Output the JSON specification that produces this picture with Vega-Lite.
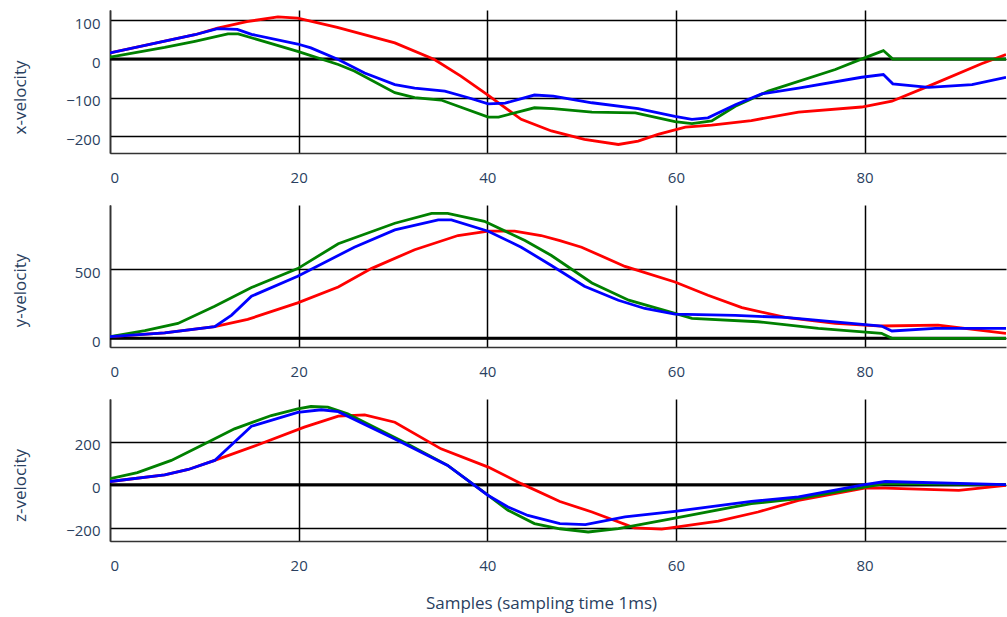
{
  "$schema": "https://vega.github.io/schema/vega-lite/v6.json",
  "padding": {"left": 10, "top": 10, "right": 0, "bottom": 6},
  "autosize": {"type": "pad"},
  "bounds": "flush",
  "spacing": 52,
  "config": {
    "font": "Open Sans",
    "view": {"stroke": null},
    "axis": {
      "grid": true, "gridColor": "#000000", "gridWidth": 1.5,
      "domainColor": "#333333", "domainWidth": 1.5, "ticks": false,
      "labelColor": "#2a3f5f", "titleColor": "#2a3f5f",
      "labelFont": "Open Sans", "titleFont": "Open Sans",
      "labelFontSize": 15, "titleFontSize": 17, "titleFontWeight": "normal"
    },
    "axisX": {"labelPadding": 17},
    "axisY": {"labelPadding": 10, "labelOffset": 3, "titleAngle": -90, "titleBaseline": "bottom", "titleAlign": "center", "titleX": -81}
  },
  "datasets": {
    "xv": [
      {"sample": 0, "series": "red", "v": 16}, {"sample": 9, "series": "red", "v": 63}, {"sample": 11.4, "series": "red", "v": 80}, {"sample": 14.5, "series": "red", "v": 97}, {"sample": 17.8, "series": "red", "v": 109}, {"sample": 19.9, "series": "red", "v": 106}, {"sample": 24.1, "series": "red", "v": 82}, {"sample": 30.2, "series": "red", "v": 42}, {"sample": 34.4, "series": "red", "v": -1}, {"sample": 37.2, "series": "red", "v": -44}, {"sample": 40, "series": "red", "v": -92}, {"sample": 43.6, "series": "red", "v": -156}, {"sample": 46.8, "series": "red", "v": -186}, {"sample": 50.3, "series": "red", "v": -208}, {"sample": 53.9, "series": "red", "v": -221}, {"sample": 56, "series": "red", "v": -212}, {"sample": 58.1, "series": "red", "v": -195}, {"sample": 61, "series": "red", "v": -176}, {"sample": 63.8, "series": "red", "v": -171}, {"sample": 68, "series": "red", "v": -159}, {"sample": 73, "series": "red", "v": -137}, {"sample": 79.7, "series": "red", "v": -124}, {"sample": 82.9, "series": "red", "v": -109}, {"sample": 86.8, "series": "red", "v": -70}, {"sample": 92.4, "series": "red", "v": -12}, {"sample": 95, "series": "red", "v": 12},
      {"sample": 0, "series": "green", "v": 5}, {"sample": 5.8, "series": "green", "v": 30}, {"sample": 9, "series": "green", "v": 46}, {"sample": 12.5, "series": "green", "v": 65}, {"sample": 13.6, "series": "green", "v": 65}, {"sample": 19.9, "series": "green", "v": 20}, {"sample": 24.2, "series": "green", "v": -14}, {"sample": 25.9, "series": "green", "v": -31}, {"sample": 30.2, "series": "green", "v": -87}, {"sample": 32.3, "series": "green", "v": -100}, {"sample": 35.1, "series": "green", "v": -106}, {"sample": 40.1, "series": "green", "v": -150}, {"sample": 41.2, "series": "green", "v": -150}, {"sample": 45, "series": "green", "v": -126}, {"sample": 47, "series": "green", "v": -128}, {"sample": 51.1, "series": "green", "v": -137}, {"sample": 55.7, "series": "green", "v": -139}, {"sample": 59.9, "series": "green", "v": -162}, {"sample": 61.7, "series": "green", "v": -167}, {"sample": 63.8, "series": "green", "v": -160}, {"sample": 66.3, "series": "green", "v": -122}, {"sample": 69.8, "series": "green", "v": -83}, {"sample": 76.9, "series": "green", "v": -27}, {"sample": 80, "series": "green", "v": 3}, {"sample": 82, "series": "green", "v": 22}, {"sample": 83, "series": "green", "v": 0}, {"sample": 95, "series": "green", "v": 0},
      {"sample": 0, "series": "blue", "v": 16}, {"sample": 9, "series": "blue", "v": 63}, {"sample": 11.4, "series": "blue", "v": 79}, {"sample": 13.5, "series": "blue", "v": 77}, {"sample": 15, "series": "blue", "v": 64}, {"sample": 19.9, "series": "blue", "v": 39}, {"sample": 21.3, "series": "blue", "v": 29}, {"sample": 24.2, "series": "blue", "v": -1}, {"sample": 27, "series": "blue", "v": -36}, {"sample": 30.2, "series": "blue", "v": -66}, {"sample": 32.3, "series": "blue", "v": -75}, {"sample": 35.5, "series": "blue", "v": -83}, {"sample": 38, "series": "blue", "v": -100}, {"sample": 40.1, "series": "blue", "v": -116}, {"sample": 41.9, "series": "blue", "v": -114}, {"sample": 45, "series": "blue", "v": -93}, {"sample": 47, "series": "blue", "v": -96}, {"sample": 51.1, "series": "blue", "v": -113}, {"sample": 56, "series": "blue", "v": -128}, {"sample": 59.9, "series": "blue", "v": -148}, {"sample": 61.7, "series": "blue", "v": -156}, {"sample": 63.4, "series": "blue", "v": -152}, {"sample": 66.3, "series": "blue", "v": -118}, {"sample": 69.1, "series": "blue", "v": -90}, {"sample": 73, "series": "blue", "v": -75}, {"sample": 79.7, "series": "blue", "v": -47}, {"sample": 82, "series": "blue", "v": -40}, {"sample": 83, "series": "blue", "v": -64}, {"sample": 86.8, "series": "blue", "v": -73}, {"sample": 91.4, "series": "blue", "v": -66}, {"sample": 95, "series": "blue", "v": -47}
    ],
    "yv": [
      {"sample": 0, "series": "red", "v": 12}, {"sample": 5.8, "series": "red", "v": 40}, {"sample": 11.1, "series": "red", "v": 84}, {"sample": 14.6, "series": "red", "v": 137}, {"sample": 19.9, "series": "red", "v": 257}, {"sample": 24.2, "series": "red", "v": 372}, {"sample": 27.7, "series": "red", "v": 505}, {"sample": 32.3, "series": "red", "v": 642}, {"sample": 36.9, "series": "red", "v": 745}, {"sample": 40.1, "series": "red", "v": 776}, {"sample": 42.9, "series": "red", "v": 776}, {"sample": 45.7, "series": "red", "v": 745}, {"sample": 47.7, "series": "red", "v": 708}, {"sample": 50, "series": "red", "v": 660}, {"sample": 54.6, "series": "red", "v": 521}, {"sample": 59.9, "series": "red", "v": 408}, {"sample": 63.4, "series": "red", "v": 312}, {"sample": 67, "series": "red", "v": 223}, {"sample": 71.6, "series": "red", "v": 151}, {"sample": 76.9, "series": "red", "v": 108}, {"sample": 81.8, "series": "red", "v": 89}, {"sample": 87.8, "series": "red", "v": 96}, {"sample": 95, "series": "red", "v": 36},
      {"sample": 0, "series": "green", "v": 12}, {"sample": 3.7, "series": "green", "v": 55}, {"sample": 7.2, "series": "green", "v": 108}, {"sample": 11.1, "series": "green", "v": 233}, {"sample": 15, "series": "green", "v": 368}, {"sample": 19.9, "series": "green", "v": 505}, {"sample": 24.2, "series": "green", "v": 685}, {"sample": 30.2, "series": "green", "v": 834}, {"sample": 34.1, "series": "green", "v": 905}, {"sample": 35.8, "series": "green", "v": 905}, {"sample": 39.7, "series": "green", "v": 848}, {"sample": 44, "series": "green", "v": 709}, {"sample": 46.8, "series": "green", "v": 600}, {"sample": 51.1, "series": "green", "v": 401}, {"sample": 55, "series": "green", "v": 276}, {"sample": 59.9, "series": "green", "v": 180}, {"sample": 61.7, "series": "green", "v": 144}, {"sample": 68.7, "series": "green", "v": 120}, {"sample": 75.1, "series": "green", "v": 72}, {"sample": 81.8, "series": "green", "v": 36}, {"sample": 82.9, "series": "green", "v": 0}, {"sample": 95, "series": "green", "v": 0},
      {"sample": 0, "series": "blue", "v": 12}, {"sample": 5.8, "series": "blue", "v": 40}, {"sample": 11.1, "series": "blue", "v": 84}, {"sample": 12.9, "series": "blue", "v": 168}, {"sample": 15, "series": "blue", "v": 305}, {"sample": 19.9, "series": "blue", "v": 449}, {"sample": 25.9, "series": "blue", "v": 660}, {"sample": 30.2, "series": "blue", "v": 786}, {"sample": 34.8, "series": "blue", "v": 858}, {"sample": 36.2, "series": "blue", "v": 858}, {"sample": 40.1, "series": "blue", "v": 776}, {"sample": 43.6, "series": "blue", "v": 660}, {"sample": 46.8, "series": "blue", "v": 528}, {"sample": 50.3, "series": "blue", "v": 377}, {"sample": 53.9, "series": "blue", "v": 276}, {"sample": 56.7, "series": "blue", "v": 216}, {"sample": 59.9, "series": "blue", "v": 175}, {"sample": 66.3, "series": "blue", "v": 166}, {"sample": 71.6, "series": "blue", "v": 151}, {"sample": 81.8, "series": "blue", "v": 89}, {"sample": 82.9, "series": "blue", "v": 53}, {"sample": 87.5, "series": "blue", "v": 72}, {"sample": 95, "series": "blue", "v": 72}
    ],
    "zv": [
      {"sample": 0, "series": "red", "v": 15}, {"sample": 5.8, "series": "red", "v": 46}, {"sample": 8.3, "series": "red", "v": 71}, {"sample": 11.1, "series": "red", "v": 113}, {"sample": 15.7, "series": "red", "v": 186}, {"sample": 20.6, "series": "red", "v": 268}, {"sample": 24.2, "series": "red", "v": 319}, {"sample": 27, "series": "red", "v": 325}, {"sample": 30.2, "series": "red", "v": 291}, {"sample": 35.1, "series": "red", "v": 167}, {"sample": 40.1, "series": "red", "v": 82}, {"sample": 43.6, "series": "red", "v": 5}, {"sample": 47.7, "series": "red", "v": -78}, {"sample": 51.1, "series": "red", "v": -127}, {"sample": 55.6, "series": "red", "v": -201}, {"sample": 58.5, "series": "red", "v": -207}, {"sample": 64.5, "series": "red", "v": -170}, {"sample": 68.7, "series": "red", "v": -127}, {"sample": 73, "series": "red", "v": -73}, {"sample": 80, "series": "red", "v": -16}, {"sample": 82.2, "series": "red", "v": -16}, {"sample": 90, "series": "red", "v": -26}, {"sample": 95, "series": "red", "v": -3},
      {"sample": 0, "series": "green", "v": 28}, {"sample": 2.9, "series": "green", "v": 56}, {"sample": 6.5, "series": "green", "v": 113}, {"sample": 10, "series": "green", "v": 190}, {"sample": 13.2, "series": "green", "v": 260}, {"sample": 17.1, "series": "green", "v": 322}, {"sample": 19.9, "series": "green", "v": 353}, {"sample": 21.3, "series": "green", "v": 364}, {"sample": 23.1, "series": "green", "v": 361}, {"sample": 25.2, "series": "green", "v": 330}, {"sample": 31.2, "series": "green", "v": 198}, {"sample": 35.8, "series": "green", "v": 90}, {"sample": 40.1, "series": "green", "v": -50}, {"sample": 42.2, "series": "green", "v": -119}, {"sample": 45, "series": "green", "v": -181}, {"sample": 47.7, "series": "green", "v": -205}, {"sample": 50.7, "series": "green", "v": -220}, {"sample": 53.9, "series": "green", "v": -204}, {"sample": 59.9, "series": "green", "v": -155}, {"sample": 68, "series": "green", "v": -88}, {"sample": 73, "series": "green", "v": -65}, {"sample": 80, "series": "green", "v": -11}, {"sample": 82.2, "series": "green", "v": 5}, {"sample": 95, "series": "green", "v": 0},
      {"sample": 0, "series": "blue", "v": 15}, {"sample": 5.8, "series": "blue", "v": 46}, {"sample": 8.3, "series": "blue", "v": 71}, {"sample": 11.1, "series": "blue", "v": 113}, {"sample": 15, "series": "blue", "v": 272}, {"sample": 19.9, "series": "blue", "v": 337}, {"sample": 22.4, "series": "blue", "v": 349}, {"sample": 24.2, "series": "blue", "v": 340}, {"sample": 30.2, "series": "blue", "v": 213}, {"sample": 35.8, "series": "blue", "v": 90}, {"sample": 40.1, "series": "blue", "v": -50}, {"sample": 42.2, "series": "blue", "v": -104}, {"sample": 44.3, "series": "blue", "v": -143}, {"sample": 47.7, "series": "blue", "v": -181}, {"sample": 50.4, "series": "blue", "v": -186}, {"sample": 54.6, "series": "blue", "v": -150}, {"sample": 59.9, "series": "blue", "v": -124}, {"sample": 68, "series": "blue", "v": -78}, {"sample": 73, "series": "blue", "v": -57}, {"sample": 80, "series": "blue", "v": 0}, {"sample": 82.2, "series": "blue", "v": 15}, {"sample": 95, "series": "blue", "v": 0}
    ]
  },
  "vconcat": [
    {
      "width": 896, "height": 143,
      "data": {"name": "xv"},
      "layer": [
        {"mark": {"type": "rule", "color": "#000000", "strokeWidth": 3}, "data": {"values": [{"ref": "zero"}]}, "encoding": {"y": {"datum": 0, "type": "quantitative", "scale": {"domain": [-243, 127], "nice": false, "zero": false}, "axis": {"values": [-200, -100, 0, 100], "title": "x-velocity", "titleY": 87}}}},
        {"transform": [{"filter": "datum.series == 'red'"}], "mark": {"type": "line", "color": "#ff0000", "strokeWidth": 2.8, "clip": true},
         "encoding": {"x": {"field": "sample", "type": "quantitative", "scale": {"domain": [0, 95], "nice": false}, "axis": {"values": [0, 20, 40, 60, 80], "title": null}}, "y": {"field": "v", "type": "quantitative"}}},
        {"transform": [{"filter": "datum.series == 'green'"}], "mark": {"type": "line", "color": "#008000", "strokeWidth": 2.8, "clip": true},
         "encoding": {"x": {"field": "sample", "type": "quantitative"}, "y": {"field": "v", "type": "quantitative"}}},
        {"transform": [{"filter": "datum.series == 'blue'"}], "mark": {"type": "line", "color": "#0000ff", "strokeWidth": 2.8, "clip": true},
         "encoding": {"x": {"field": "sample", "type": "quantitative"}, "y": {"field": "v", "type": "quantitative"}}}
      ]
    },
    {
      "width": 896, "height": 142,
      "data": {"name": "yv"},
      "layer": [
        {"mark": {"type": "rule", "color": "#000000", "strokeWidth": 3}, "data": {"values": [{"ref": "zero"}]}, "encoding": {"y": {"datum": 0, "type": "quantitative", "scale": {"domain": [-63, 966], "nice": false, "zero": false}, "axis": {"values": [0, 500], "title": "y-velocity", "titleY": 85}}}},
        {"transform": [{"filter": "datum.series == 'red'"}], "mark": {"type": "line", "color": "#ff0000", "strokeWidth": 2.8, "clip": true},
         "encoding": {"x": {"field": "sample", "type": "quantitative", "scale": {"domain": [0, 95], "nice": false}, "axis": {"values": [0, 20, 40, 60, 80], "title": null}}, "y": {"field": "v", "type": "quantitative"}}},
        {"transform": [{"filter": "datum.series == 'green'"}], "mark": {"type": "line", "color": "#008000", "strokeWidth": 2.8, "clip": true},
         "encoding": {"x": {"field": "sample", "type": "quantitative"}, "y": {"field": "v", "type": "quantitative"}}},
        {"transform": [{"filter": "datum.series == 'blue'"}], "mark": {"type": "line", "color": "#0000ff", "strokeWidth": 2.8, "clip": true},
         "encoding": {"x": {"field": "sample", "type": "quantitative"}, "y": {"field": "v", "type": "quantitative"}}}
      ]
    },
    {
      "width": 896, "height": 142,
      "data": {"name": "zv"},
      "layer": [
        {"mark": {"type": "rule", "color": "#000000", "strokeWidth": 3}, "data": {"values": [{"ref": "zero"}]}, "encoding": {"y": {"datum": 0, "type": "quantitative", "scale": {"domain": [-262, 399], "nice": false, "zero": false}, "axis": {"values": [-200, 0, 200], "title": "z-velocity", "titleY": 86}}}},
        {"transform": [{"filter": "datum.series == 'red'"}], "mark": {"type": "line", "color": "#ff0000", "strokeWidth": 2.8, "clip": true},
         "encoding": {"x": {"field": "sample", "type": "quantitative", "scale": {"domain": [0, 95], "nice": false}, "axis": {"values": [0, 20, 40, 60, 80], "title": "Samples (sampling time 1ms)", "titleX": 431, "titleY": 62, "titleBaseline": "middle", "titleFontSize": 17}}, "y": {"field": "v", "type": "quantitative"}}},
        {"transform": [{"filter": "datum.series == 'green'"}], "mark": {"type": "line", "color": "#008000", "strokeWidth": 2.8, "clip": true},
         "encoding": {"x": {"field": "sample", "type": "quantitative"}, "y": {"field": "v", "type": "quantitative"}}},
        {"transform": [{"filter": "datum.series == 'blue'"}], "mark": {"type": "line", "color": "#0000ff", "strokeWidth": 2.8, "clip": true},
         "encoding": {"x": {"field": "sample", "type": "quantitative"}, "y": {"field": "v", "type": "quantitative"}}}
      ]
    }
  ]
}
